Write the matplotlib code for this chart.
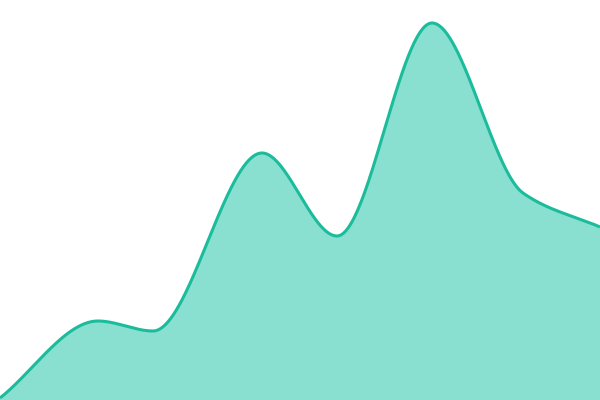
import numpy as np
import matplotlib
matplotlib.use("Agg")
import matplotlib.pyplot as plt

# knot positions (x) and values (height above the bottom)
xs = [0, 98, 153, 262, 337, 432, 523, 600]
values = [2, 79, 69, 247, 164, 377, 207, 173]

LINE = "#1abc9c"
FILL = "#8ae0d0"


def pchip(x, y, xq):
    x = np.asarray(x, float); y = np.asarray(y, float)
    h = np.diff(x); d = np.diff(y) / h
    n = len(x); m = np.zeros(n)
    for k in range(1, n - 1):
        if d[k - 1] * d[k] > 0:
            w1 = 2 * h[k] + h[k - 1]; w2 = h[k] + 2 * h[k - 1]
            m[k] = (w1 + w2) / (w1 / d[k - 1] + w2 / d[k])
    m[0] = d[0]; m[-1] = d[-1]
    idx = np.clip(np.searchsorted(x, xq) - 1, 0, n - 2)
    t = (xq - x[idx]) / h[idx]
    h00 = 2 * t**3 - 3 * t**2 + 1; h10 = t**3 - 2 * t**2 + t
    h01 = -2 * t**3 + 3 * t**2; h11 = t**3 - t**2
    return h00 * y[idx] + h10 * h[idx] * m[idx] + h01 * y[idx + 1] + h11 * h[idx] * m[idx + 1]


xq = np.linspace(xs[0], xs[-1], 1200)
yq = pchip(xs, values, xq)

fig = plt.figure(figsize=(6, 4), dpi=100)
ax = fig.add_axes([0, 0, 1, 1])
ax.fill_between(xq, 0, yq, color=FILL, linewidth=0)
ax.plot(xq, yq, color=LINE, linewidth=2.2, solid_capstyle="butt")
ax.set_xlim(0, 600)
ax.set_ylim(0, 400)
ax.axis("off")
fig.savefig("out.png", dpi=100)
